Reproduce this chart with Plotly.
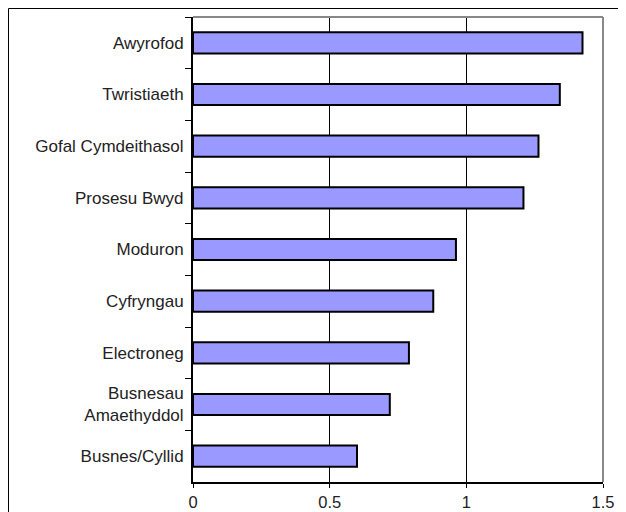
import plotly.graph_objects as go

categories = ["Awyrofod", "Twristiaeth", "Gofal Cymdeithasol", "Prosesu Bwyd",
              "Moduron", "Cyfryngau", "Electroneg", "Busnesau<br>Amaethyddol",
              "Busnes/Cyllid"]
values = [1.425, 1.342, 1.264, 1.209, 0.962, 0.879, 0.790, 0.720, 0.600]
x_ticks = [0, 0.5, 1, 1.5]
x_tick_labels = ["0", "0.5", "1", "1.5"]

fig = go.Figure(go.Bar(
    y=categories, x=values, orientation="h",
    marker=dict(color="#9999FF", line=dict(color="black", width=2)),
))

# page body has an 8px margin; figure is sized to fill the rest of the window
W, H = 618, 504
L, R, T, B = 185, 23, 9, 30
pw, ph = W - L - R, H - T - B

fig.update_layout(
    width=W, height=H,
    margin=dict(l=L, r=R, t=T, b=B, pad=0, autoexpand=False),
    paper_bgcolor="white", plot_bgcolor="white",
    bargap=0.59, showlegend=False,
    font=dict(family="Liberation Sans, Arial, sans-serif", size=17, color="#222"),
)
fig.update_xaxes(
    range=[0, 1.5], tickvals=x_ticks, ticktext=x_tick_labels,
    tickfont=dict(size=16.5),
    showgrid=True, gridcolor="black", gridwidth=1, zeroline=False,
    showline=True, linecolor="black", linewidth=2,
    ticks="outside", ticklen=4, tickcolor="black", ticklabelstandoff=0,
)
fig.update_yaxes(
    autorange="reversed", type="category",
    showline=True, linecolor="black", linewidth=2,
    ticks="outside", tickson="boundaries", ticklen=6, tickcolor="black",
    ticklabelstandoff=4, showgrid=False,
)
# plot-area border (top and right, grey)
fig.add_shape(type="line", xref="paper", yref="paper", x0=0, x1=1, y0=1, y1=1,
              line=dict(color="#888", width=2), layer="above")
fig.add_shape(type="line", xref="paper", yref="paper", x0=1, x1=1, y0=0, y1=1,
              line=dict(color="#888", width=2), layer="above")
# outer frame
fx0 = (0.5 - L) / pw
fy1 = (H - B - 0.5) / ph
fig.add_shape(type="rect", xref="paper", yref="paper", x0=fx0, x1=1.2, y0=-0.2, y1=fy1,
              line=dict(color="black", width=1), layer="above")

fig.write_html("out.html")
